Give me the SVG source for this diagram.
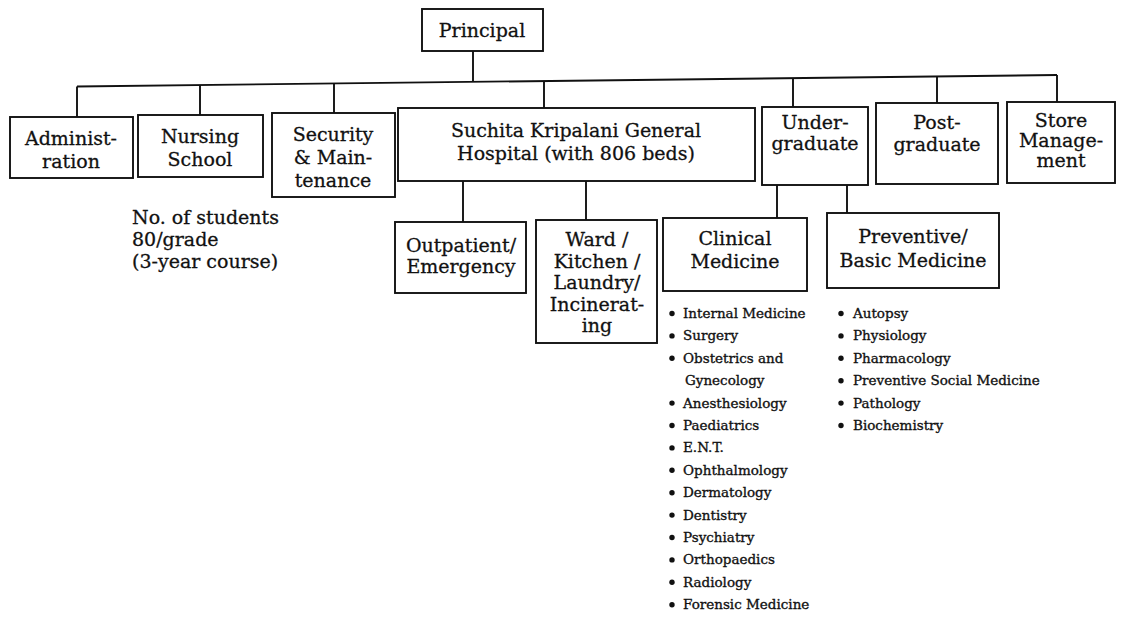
<svg xmlns="http://www.w3.org/2000/svg" width="1122" height="618" viewBox="0 0 1122 618">
<style>
  .box { fill: #fff; stroke: #111; stroke-width: 1.9; }
  .ln { fill: none; stroke: #111; stroke-width: 1.9; }
  .t { font-family: "DejaVu Serif", "Liberation Serif", serif; font-size: 19px; fill: #111; stroke: #111; stroke-width: 0.3; text-anchor: middle; }
  .n { font-family: "DejaVu Serif", "Liberation Serif", serif; font-size: 19px; fill: #111; stroke: #111; stroke-width: 0.3; }
  .li { font-family: "DejaVu Serif", "Liberation Serif", serif; font-size: 13.5px; fill: #111; stroke: #111; stroke-width: 0.35; }
  .b { fill: #111; }
</style>
<rect width="1122" height="618" fill="#fff"/>

<g id="connectors">
  <line class="ln" x1="473" y1="51" x2="473" y2="81.6"/>
  <line class="ln" x1="77" y1="86.5" x2="1057" y2="75"/>
  <line class="ln" x1="77" y1="86.5" x2="77" y2="117"/>
  <line class="ln" x1="200" y1="85" x2="200" y2="115"/>
  <line class="ln" x1="334" y1="83.5" x2="334" y2="113"/>
  <line class="ln" x1="544" y1="81" x2="544" y2="108"/>
  <line class="ln" x1="793" y1="78" x2="793" y2="107"/>
  <line class="ln" x1="937" y1="76.4" x2="937" y2="103"/>
  <line class="ln" x1="1057" y1="75" x2="1057" y2="102"/>
  <line class="ln" x1="463" y1="181" x2="463" y2="222"/>
  <line class="ln" x1="586" y1="180" x2="586" y2="220"/>
  <line class="ln" x1="777" y1="185" x2="777" y2="218"/>
  <line class="ln" x1="847" y1="185" x2="847" y2="213"/>
</g>

<g id="principal">
  <rect class="box" x="422" y="9" width="121" height="42"/>
  <text class="t" x="482" y="37">Principal</text>
</g>

<g id="administration">
  <rect class="box" x="10" y="117" width="123" height="61"/>
  <text class="t" x="71" y="145">Administ-</text>
  <text class="t" x="71" y="168">ration</text>
</g>

<g id="nursing-school">
  <rect class="box" x="138" y="115" width="125" height="62"/>
  <text class="t" x="200" y="143">Nursing</text>
  <text class="t" x="200" y="166">School</text>
</g>

<g id="security">
  <rect class="box" x="272" y="113" width="123" height="84"/>
  <text class="t" x="333" y="141">Security</text>
  <text class="t" x="333" y="164">&amp; Main-</text>
  <text class="t" x="333" y="187">tenance</text>
</g>

<g id="hospital">
  <rect class="box" x="398" y="108" width="357" height="73"/>
  <text class="t" x="576" y="137">Suchita Kripalani General</text>
  <text class="t" x="576" y="160">Hospital (with 806 beds)</text>
</g>

<g id="undergraduate">
  <rect class="box" x="762" y="107" width="106" height="78"/>
  <text class="t" x="815" y="129">Under-</text>
  <text class="t" x="815" y="150">graduate</text>
</g>

<g id="postgraduate">
  <rect class="box" x="876" y="103" width="122" height="81"/>
  <text class="t" x="937" y="129">Post-</text>
  <text class="t" x="937" y="151">graduate</text>
</g>

<g id="store-management">
  <rect class="box" x="1007" y="102" width="108" height="81"/>
  <text class="t" x="1061" y="127">Store</text>
  <text class="t" x="1061" y="147">Manage-</text>
  <text class="t" x="1061" y="167">ment</text>
</g>

<g id="students-note">
  <text class="n" x="132" y="224">No. of students</text>
  <text class="n" x="132" y="246">80/grade</text>
  <text class="n" x="132" y="268">(3-year course)</text>
</g>

<g id="outpatient">
  <rect class="box" x="395" y="222" width="131" height="71"/>
  <text class="t" x="461" y="252">Outpatient/</text>
  <text class="t" x="461" y="273">Emergency</text>
</g>

<g id="ward">
  <rect class="box" x="536" y="220" width="121" height="123"/>
  <text class="t" x="597" y="246">Ward /</text>
  <text class="t" x="597" y="268">Kitchen /</text>
  <text class="t" x="597" y="289">Laundry/</text>
  <text class="t" x="597" y="311">Incinerat-</text>
  <text class="t" x="597" y="332">ing</text>
</g>

<g id="clinical-medicine">
  <rect class="box" x="663" y="218" width="144" height="73"/>
  <text class="t" x="735" y="245">Clinical</text>
  <text class="t" x="735" y="268">Medicine</text>
</g>

<g id="preventive-medicine">
  <rect class="box" x="827" y="213" width="172" height="75"/>
  <text class="t" x="913" y="243">Preventive/</text>
  <text class="t" x="913" y="267">Basic Medicine</text>
</g>

<g id="clinical-list">
  <circle class="b" cx="672" cy="313.5" r="2.7"/><text class="li" x="683" y="318">Internal Medicine</text>
  <circle class="b" cx="672" cy="335.9" r="2.7"/><text class="li" x="683" y="340.4">Surgery</text>
  <circle class="b" cx="672" cy="358.3" r="2.7"/><text class="li" x="683" y="362.8">Obstetrics and</text>
  <text class="li" x="685" y="385.2">Gynecology</text>
  <circle class="b" cx="672" cy="403.1" r="2.7"/><text class="li" x="683" y="407.6">Anesthesiology</text>
  <circle class="b" cx="672" cy="425.5" r="2.7"/><text class="li" x="683" y="430">Paediatrics</text>
  <circle class="b" cx="672" cy="447.9" r="2.7"/><text class="li" x="683" y="452.4">E.N.T.</text>
  <circle class="b" cx="672" cy="470.3" r="2.7"/><text class="li" x="683" y="474.8">Ophthalmology</text>
  <circle class="b" cx="672" cy="492.7" r="2.7"/><text class="li" x="683" y="497.2">Dermatology</text>
  <circle class="b" cx="672" cy="515.1" r="2.7"/><text class="li" x="683" y="519.6">Dentistry</text>
  <circle class="b" cx="672" cy="537.5" r="2.7"/><text class="li" x="683" y="542">Psychiatry</text>
  <circle class="b" cx="672" cy="559.9" r="2.7"/><text class="li" x="683" y="564.4">Orthopaedics</text>
  <circle class="b" cx="672" cy="582.3" r="2.7"/><text class="li" x="683" y="586.8">Radiology</text>
  <circle class="b" cx="672" cy="604.7" r="2.7"/><text class="li" x="683" y="609.2">Forensic Medicine</text>
</g>

<g id="preventive-list">
  <circle class="b" cx="841" cy="313.5" r="2.7"/><text class="li" x="853" y="318">Autopsy</text>
  <circle class="b" cx="841" cy="335.9" r="2.7"/><text class="li" x="853" y="340.4">Physiology</text>
  <circle class="b" cx="841" cy="358.3" r="2.7"/><text class="li" x="853" y="362.8">Pharmacology</text>
  <circle class="b" cx="841" cy="380.7" r="2.7"/><text class="li" x="853" y="385.2">Preventive Social Medicine</text>
  <circle class="b" cx="841" cy="403.1" r="2.7"/><text class="li" x="853" y="407.6">Pathology</text>
  <circle class="b" cx="841" cy="425.5" r="2.7"/><text class="li" x="853" y="430">Biochemistry</text>
</g>
</svg>
